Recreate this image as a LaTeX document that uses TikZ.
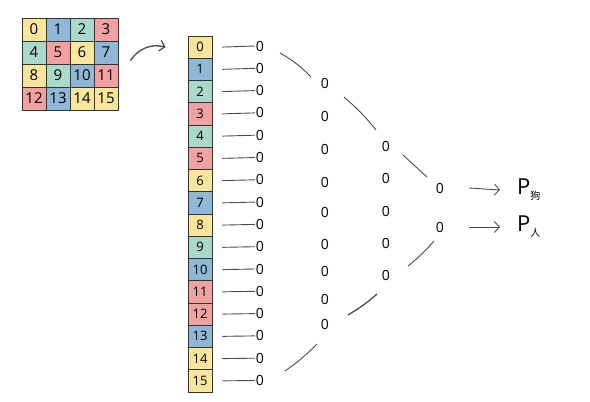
\documentclass[tikz,border=0pt]{standalone}
\usepackage{fontspec}
\setmainfont{Open Sans}
\newfontfamily\cjk{Noto Sans CJK SC}
\usetikzlibrary{arrows.meta}
\definecolor{cyel}{RGB}{248,222,120}
\definecolor{cblue}{RGB}{105,160,200}
\definecolor{cgreen}{RGB}{140,205,185}
\definecolor{cred}{RGB}{238,130,130}

\begin{document}
\begin{tikzpicture}[x=1pt,y=-1pt,>={Straight Barb[length=5pt,width=11pt]},
   cell/.style={draw=black!80,thick,minimum width=24pt,minimum height=23pt,inner sep=0pt,font=\fontsize{15}{15}\selectfont},
   bar/.style={draw=black!80,thick,minimum width=24pt,minimum height=22.25pt,inner sep=0pt,font=\fontsize{13}{13}\selectfont},
   unit/.style={inner sep=1pt,font=\fontsize{14}{14}\selectfont},
   wire/.style={draw=black!70,line width=0.9pt}]
  \useasboundingbox (0,0) rectangle (590,402);
  % input image (4x4 pixels)
  \foreach \n/\c in {0/cyel,1/cblue,2/cgreen,3/cred,4/cgreen,5/cred,6/cyel,7/cblue,
                     8/cyel,9/cgreen,10/cblue,11/cred,12/cred,13/cblue,14/cyel,15/cyel}{
    \pgfmathtruncatemacro\col{mod(\n,4)}
    \pgfmathtruncatemacro\row{div(\n,4)}
    \node[cell,fill=\c!75] (g\n) at (34+24*\col,29.5+23*\row) {\n};
  }
  % flattened column
  \foreach \n/\c in {0/cyel,1/cblue,2/cgreen,3/cred,4/cgreen,5/cred,6/cyel,7/cblue,
                     8/cyel,9/cgreen,10/cblue,11/cred,12/cred,13/cblue,14/cyel,15/cyel}
    \node[bar,fill=\c!75] (c\n) at (200,47.1+22.25*\n) {\n};
  \draw[->,wire,line width=1.3pt] ([shift={(12,8)}]g7.east) to[bend left=35] ([xshift=-22pt]c0.west);
  % input units
  \foreach \n in {0,...,15}{
    \node[unit] (h\n) at (260,46+22.3*\n) {0};
    \draw[wire] ([xshift=10pt]c\n.east) -- (h\n.west);
  }
  % hidden layers
  \foreach \y [count=\k] in {83,116,149,182,212,244,271,299,324}
    \node[unit] (s\k) at (325,\y) {0};
  \foreach \y [count=\k] in {146,178,211,243,275}
    \node[unit] (t\k) at (386,\y) {0};
  \node[unit] (o1) at (440,188) {0};
  \node[unit] (o2) at (440,227) {0};
  % funnel strokes
  \draw[wire] (280,53) to[bend left=8] (311,77);
  \draw[wire] (344,97) to[bend left=5] (376,130);
  \draw[wire] (403,155) -- (427,177);
  \draw[wire] (434,241) to[bend left=5] (408,266);
  \draw[wire,line width=1.3pt] (377,294) to[bend left=5] (348,315);
  \draw[wire] (317,344) to[bend left=5] (285,371);
  % outputs
  \node[anchor=west,inner sep=0pt,font=\fontsize{22}{22}\selectfont] (p1) at (517,190)
    {P\raisebox{-5pt}{\cjk\fontsize{10}{10}\selectfont 狗}};
  \node[anchor=west,inner sep=0pt,font=\fontsize{22}{22}\selectfont] (p2) at (517,227)
    {P\raisebox{-5pt}{\cjk\fontsize{10}{10}\selectfont 人}};
  \draw[->,wire] ([xshift=24pt]o1.east) -- ([xshift=-17pt]p1.west);
  \draw[->,wire] ([xshift=24pt]o2.east) -- ([xshift=-17pt]p2.west);
\end{tikzpicture}
\end{document}
